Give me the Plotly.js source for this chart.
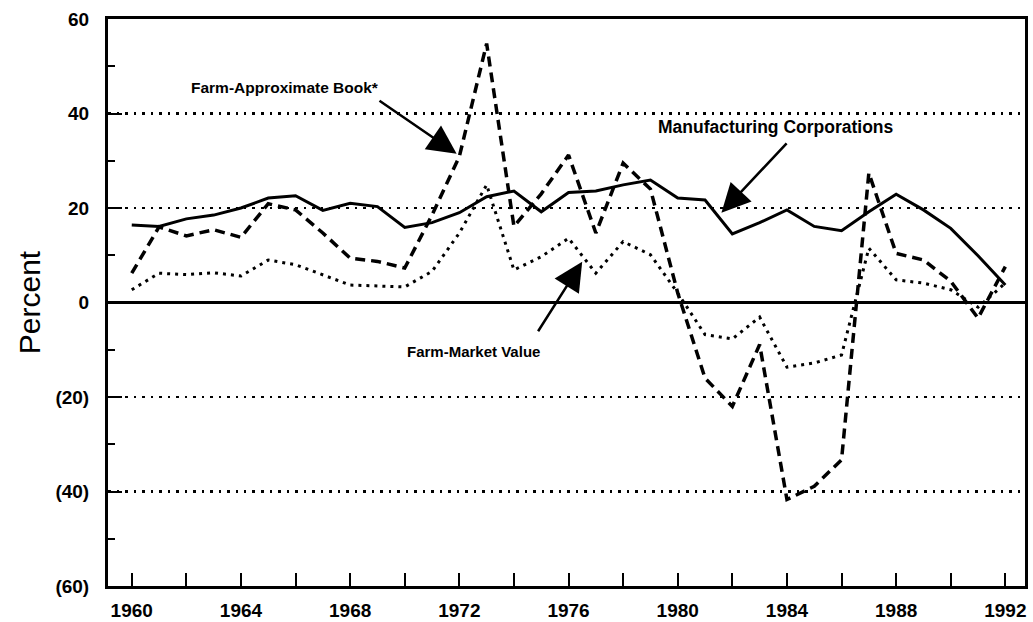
<!DOCTYPE html>
<html>
<head>
<meta charset="utf-8">
<script src="https://cdn.plot.ly/plotly-3.0.1.min.js"></script>
<style>
  html, body { margin: 0; padding: 0; background: #ffffff; }
  #chart { width: 1033px; height: 622px; }
</style>
</head>
<body>
<div id="chart"></div>
<script>
// Years on the x axis
const years = [1960, 1961, 1962, 1963, 1964, 1965, 1966, 1967, 1968, 1969,
               1970, 1971, 1972, 1973, 1974, 1975, 1976, 1977, 1978, 1979,
               1980, 1981, 1982, 1983, 1984, 1985, 1986, 1987, 1988, 1989,
               1990, 1991, 1992];

// Manufacturing Corporations (solid line), percent
const manufacturing = [16.4, 16.1, 17.7, 18.5, 20.0, 22.1, 22.6, 19.5, 21.0, 20.3,
                       15.9, 16.9, 19.0, 22.4, 23.6, 19.2, 23.3, 23.6, 24.9, 25.9,
                       22.1, 21.7, 14.5, 16.9, 19.6, 16.1, 15.2, 19.2, 22.9, 19.6,
                       15.7, 9.9, 3.7];

// Farm - Approximate Book (dashed line), percent
const farmBook = [6.2, 16.0, 14.1, 15.4, 13.8, 20.9, 19.6, 14.7, 9.4, 8.7,
                  7.3, 18.5, 30.9, 54.8, 16.1, 23.0, 31.2, 14.7, 29.5, 24.0,
                  2.0, -16.0, -22.0, -8.9, -41.7, -38.9, -33.3, 27.4, 10.4, 9.0,
                  4.5, -3.3, 7.6];

// Farm - Market Value (dotted line), percent
const farmMarket = [2.7, 6.2, 5.9, 6.3, 5.6, 9.0, 8.0, 5.9, 3.7, 3.5,
                    3.3, 6.6, 14.7, 24.9, 6.9, 9.7, 13.6, 6.2, 12.9, 10.1,
                    2.0, -6.8, -7.7, -3.1, -13.7, -12.8, -11.1, 11.5, 4.8, 4.1,
                    2.7, -1.0, 4.1];

// Axis tick labels
const xTickVals = [1960, 1964, 1968, 1972, 1976, 1980, 1984, 1988, 1992];
const xTickText = ["1960", "1964", "1968", "1972", "1976", "1980", "1984", "1988", "1992"];
const yTickVals = [60, 40, 20, 0, -20, -40, -60];
const yTickText = ["60", "40", "20", "0", "(20)", "(40)", "(60)"];

// Series labels
const seriesNames = ["Manufacturing Corporations", "Farm-Approximate Book*", "Farm-Market Value"];

const labelFamily = "'Liberation Sans', Arial, sans-serif";
const tickFont = { family: "'Liberation Sans', Arial, sans-serif", size: 19, color: "#000", weight: "bold" };

const traces = [
  { x: years, y: manufacturing, name: seriesNames[0], type: "scatter", mode: "lines",
    line: { color: "#000", width: 3, dash: "solid" } },
  { x: years, y: farmBook, name: seriesNames[1], type: "scatter", mode: "lines",
    line: { color: "#000", width: 3.5, dash: "10px,6px" } },
  { x: years, y: farmMarket, name: seriesNames[2], type: "scatter", mode: "lines",
    line: { color: "#000", width: 3, dash: "3px,5px" } }
];

const arrowStyle = { showarrow: true, arrowhead: 2, arrowsize: 2.3, arrowwidth: 2.5,
                     arrowcolor: "#000", xref: "x", yref: "y", axref: "x", ayref: "y", text: "" };

const layout = {
  width: 1033, height: 622,
  margin: { l: 108, r: 8, t: 19, b: 36, pad: 0 },
  paper_bgcolor: "#fff", plot_bgcolor: "#fff",
  showlegend: false,
  font: tickFont,
  xaxis: {
    range: [1959.13, 1992.72],
    tickmode: "array", tickvals: xTickVals, ticktext: xTickText,
    ticks: "inside", ticklen: 13, tickwidth: 2, tickcolor: "#000",
    minor: { tickmode: "linear", tick0: 1960, dtick: 2, ticks: "inside", ticklen: 13, tickwidth: 2, tickcolor: "#000", showgrid: false },
    showgrid: false, zeroline: false,
    showline: true, linecolor: "#000", linewidth: 3, mirror: true,
    tickfont: tickFont, ticklabelstandoff: 5
  },
  yaxis: {
    range: [-60, 60],
    tickmode: "array", tickvals: yTickVals, ticktext: yTickText,
    ticks: "inside", ticklen: 14, tickwidth: 2, tickcolor: "#000",
    minor: { tickmode: "linear", tick0: 0, dtick: 10, ticks: "inside", ticklen: 7, tickwidth: 2, tickcolor: "#000", showgrid: false },
    showgrid: true, gridcolor: "#000", gridwidth: 2.5, griddash: "2.5px,6px",
    zeroline: true, zerolinecolor: "#000", zerolinewidth: 3,
    showline: true, linecolor: "#000", linewidth: 3, mirror: true,
    tickfont: tickFont, ticklabelstandoff: 12,
    title: { text: "Percent", font: { family: "'Liberation Sans', Arial, sans-serif", size: 30, color: "#000", weight: "normal" }, standoff: 6 }
  },
  annotations: [
    { text: seriesNames[1], x: 1965.62, y: 45.4, xref: "x", yref: "y", showarrow: false,
      xanchor: "center", yanchor: "middle",
      font: { family: labelFamily, size: 15.5, color: "#000", weight: "bold" } },
    { text: seriesNames[0], x: 1983.6, y: 37.2, xref: "x", yref: "y", showarrow: false,
      xanchor: "center", yanchor: "middle",
      font: { family: labelFamily, size: 17.5, color: "#000", weight: "bold" } },
    { text: seriesNames[2], x: 1972.5, y: -10.4, xref: "x", yref: "y", showarrow: false,
      xanchor: "center", yanchor: "middle",
      font: { family: labelFamily, size: 15, color: "#000", weight: "bold" } },
    Object.assign({}, arrowStyle, { x: 1971.9, y: 31.5, ax: 1969.02, ay: 42.9 }),
    Object.assign({}, arrowStyle, { x: 1981.6, y: 19.0, ax: 1984.04, ay: 34.0 }),
    Object.assign({}, arrowStyle, { x: 1976.5, y: 8.6, ax: 1974.85, ay: -6.4 })
  ]
};

Plotly.newPlot("chart", traces, layout, { displayModeBar: false, staticPlot: true });
</script>
</body>
</html>
